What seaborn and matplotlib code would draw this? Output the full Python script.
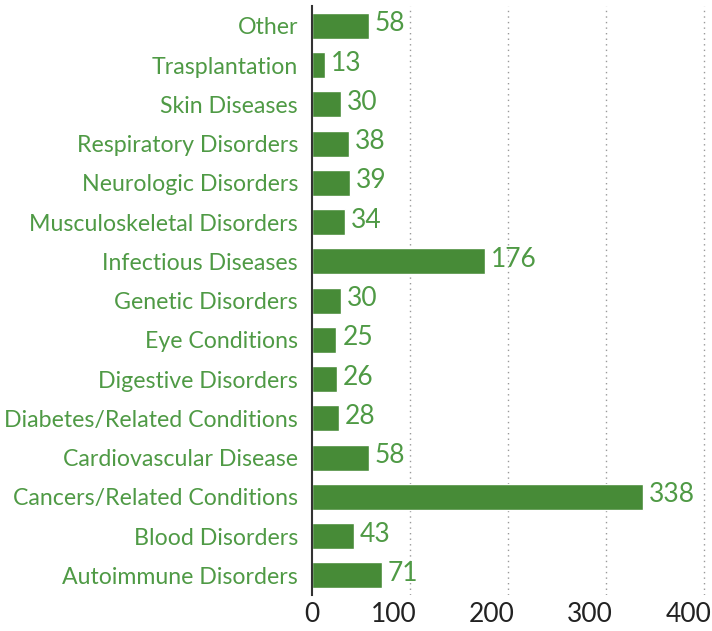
import matplotlib
matplotlib.use("Agg")
import matplotlib.pyplot as plt
import seaborn as sns
import pandas as pd

categories = [
    "Other", "Trasplantation", "Skin Diseases", "Respiratory Disorders",
    "Neurologic Disorders", "Musculoskeletal Disorders", "Infectious Diseases",
    "Genetic Disorders", "Eye Conditions", "Digestive Disorders",
    "Diabetes/Related Conditions", "Cardiovascular Disease",
    "Cancers/Related Conditions", "Blood Disorders", "Autoimmune Disorders",
]
counts = [58, 13, 30, 38, 39, 34, 176, 30, 25, 26, 28, 58, 338, 43, 71]
x_ticks = [0, 100, 200, 300, 400]

df = pd.DataFrame({"category": categories, "count": counts})

sns.set_style("white")
plt.rcParams["font.family"] = ["Lato", "DejaVu Sans"]

bar_color = "#478b37"
text_color = "#4f9a45"

fig = plt.figure(figsize=(7.12, 6.31), dpi=100)
ax = fig.add_axes([0.438, 0.057, 0.558, 0.933])

sns.barplot(data=df, y="category", x="count", color=bar_color, width=0.66,
            saturation=1, ax=ax, zorder=3)

for i, v in enumerate(counts):
    ax.text(v + 6, i - 0.05, str(v), va="center", ha="left", fontsize=19,
            color=text_color)

ax.set_xlim(0, 405)
ax.set_xticks(x_ticks)
ax.set_xticklabels([])
# x labels sit a little left of their gridlines in the original
for t in x_ticks:
    dx = 0 if t == 0 else -11.5
    ax.annotate(str(t), xy=(t, 0), xycoords=("data", "axes fraction"),
                xytext=(dx, -5), textcoords="offset points",
                ha="center", va="top", fontsize=19, color="#222222")
ax.tick_params(axis="y", labelsize=16.7, labelcolor=text_color, length=0, pad=10)
ax.tick_params(axis="x", length=0)
ax.set_xlabel("")
ax.set_ylabel("")
for t in x_ticks[1:]:
    ax.axvline(t, color="#999999", linestyle=(0, (1, 3)), linewidth=1, zorder=1)

for s in ["top", "right", "bottom"]:
    ax.spines[s].set_visible(False)
ax.spines["left"].set_color("#333333")
ax.spines["left"].set_linewidth(1.5)
ax.spines["left"].set_zorder(4)

plt.savefig("out.png", dpi=100)
